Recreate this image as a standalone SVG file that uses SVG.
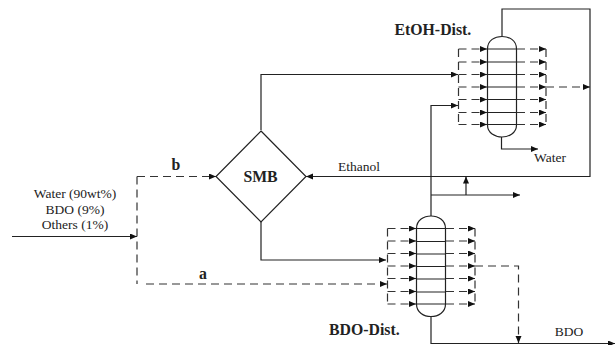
<svg xmlns="http://www.w3.org/2000/svg" width="616" height="345" viewBox="0 0 616 345">
<style>
text{font-family:"Liberation Serif","Times New Roman",serif;fill:#222}
.s{fill:none;stroke:#222;stroke-width:1.2}
.d{fill:none;stroke:#333;stroke-width:1.2;stroke-dasharray:8 5}
.a{marker-end:url(#ah)}
.t{font-size:13.500px;text-anchor:middle}
.b{font-size:15.800px;font-weight:bold}
.col{fill:#fff;stroke:#222;stroke-width:1.2}
</style>
<defs>
<marker id="ah" markerUnits="userSpaceOnUse" markerWidth="8" markerHeight="7" refX="7" refY="3" orient="auto"><path d="M0 0L7 3L0 6z" fill="#111"/></marker>
<g id="traysE"><path class="s" d="M487.500 49H516.500M487.500 62H516.500M487.500 74.500H516.500M487.500 87H516.500M487.500 99.500H516.500M487.500 112.500H516.500M487.500 124.500H516.500"/></g>
</defs>
<g id="connectors">
<path class="s a" d="M12 236.500H137"/>
<path class="d" d="M137 176.500V284"/>
<path class="d a" d="M137 176.500H216"/>
<path class="d a" d="M146 284H387"/>
<path class="s a" d="M261 130V74.500H458"/>
<path class="s a" d="M261 222V260H386"/>
<path class="s a" d="M502 36V9H590V176.500H306"/>
<path class="s a" d="M431 216V105.500H458"/>
<path class="s a" d="M431 195H520"/>
<path class="s a" d="M466 195V176.500"/>
<path class="s a" d="M501.500 137V149H538"/>
<path class="s a" d="M431 317V343.500H615"/>
<path class="d a" d="M546 87H590"/>
<path class="d a" d="M475 266H518.500V343"/>
<path class="d" d="M458.500 49V124.500M546 49V124.500M387.500 228.500V304M475 228.500V304"/>
<g id="etoh-side-streams">
<path class="d a" d="M458.500 49H487"/><path class="d a" d="M458.500 62H487"/><path class="d a" d="M458.500 74.500H487"/><path class="d a" d="M458.500 87H487"/><path class="d a" d="M458.500 99.500H487"/><path class="d a" d="M458.500 112.500H487"/><path class="d a" d="M458.500 124.500H487"/>
<path class="d a" d="M517 49H546"/><path class="d a" d="M517 62H546"/><path class="d a" d="M517 74.500H546"/><path class="d a" d="M517 87H546"/><path class="d a" d="M517 99.500H546"/><path class="d a" d="M517 112.500H546"/><path class="d a" d="M517 124.500H546"/>
</g>
<g id="bdo-side-streams">
<path class="d a" d="M387.500 228.500H416"/><path class="d a" d="M387.500 241H416"/><path class="d a" d="M387.500 253.500H416"/><path class="d a" d="M387.500 266H416"/><path class="d a" d="M387.500 278.500H416"/><path class="d a" d="M387.500 291.500H416"/><path class="d a" d="M387.500 304H416"/>
<path class="d a" d="M446 228.500H475"/><path class="d a" d="M446 241H475"/><path class="d a" d="M446 253.500H475"/><path class="d a" d="M446 266H475"/><path class="d a" d="M446 278.500H475"/><path class="d a" d="M446 291.500H475"/><path class="d a" d="M446 304H475"/>
</g>
</g>
<g id="smb">
<path class="col" d="M261 131L306 176.500L261 222L216 176.500Z"/>
<text class="b" x="260.500" y="182" text-anchor="middle">SMB</text>
</g>
<g id="etoh-dist">
<path class="s" d="M487.500 49C487.500 40 495 36.500 502 36.500C509 36.500 516.500 40 516.500 49V125C516.500 133 509 137 502 137C495 137 487.500 133 487.500 125Z"/>
<use href="#traysE"/>
<text class="b" x="394.500" y="35">EtOH-Dist.</text>
</g>
<g id="bdo-dist">
<path class="s" d="M416.500 228.500C416.500 220 424 216 431 216C438 216 445.500 220 445.500 228.500V304C445.500 312.500 438 316.500 431 316.500C424 316.500 416.500 312.500 416.500 304Z"/>
<use href="#traysE" transform="translate(-71 179.500)"/>
<text class="b" x="329" y="335">BDO-Dist.</text>
</g>
<g id="labels">
<text class="t" x="75" y="198">Water (90wt%)</text>
<text class="t" x="75" y="214">BDO (9%)</text>
<text class="t" x="75" y="229">Others (1%)</text>
<text class="b" x="176" y="170" text-anchor="middle">b</text>
<text class="b" x="203" y="279" text-anchor="middle">a</text>
<text class="t" x="359" y="171">Ethanol</text>
<text class="t" x="550" y="162">Water</text>
<text class="t" x="569" y="336">BDO</text>
</g>
</svg>
